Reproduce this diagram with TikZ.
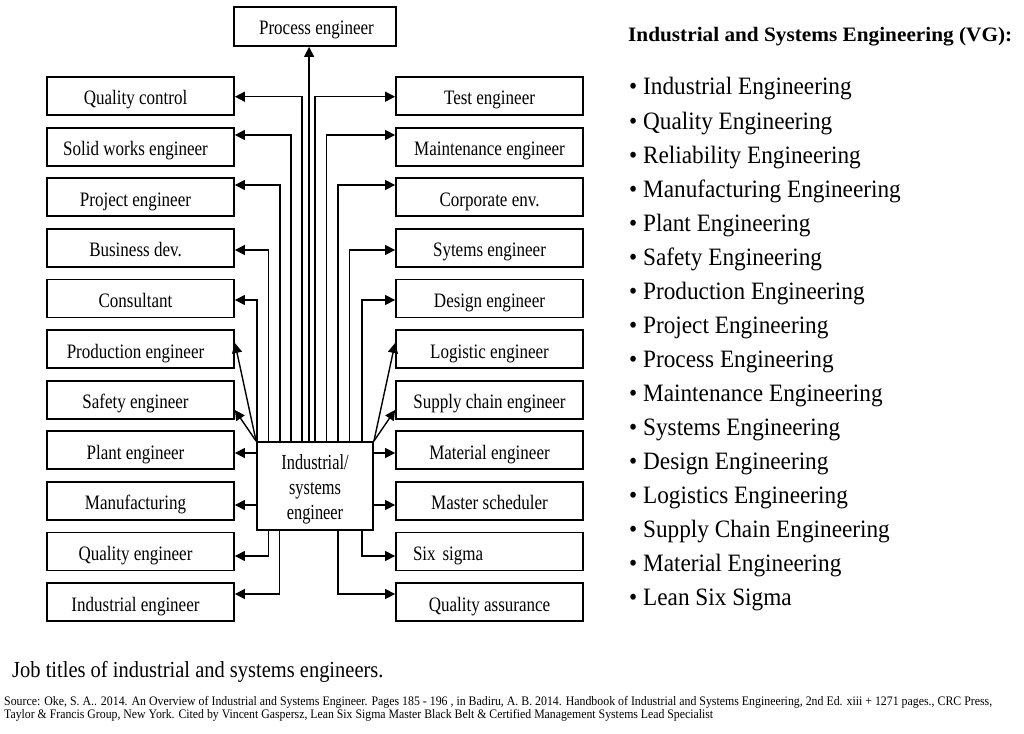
\documentclass[tikz,border=0pt]{standalone}
\usepackage{fontspec}
\setmainfont{Liberation Serif}
\newfontfamily\bxf[FakeStretch=0.83]{Liberation Serif}
\newfontfamily\cbf[FakeStretch=0.76]{Liberation Serif}
\newfontfamily\lsf[FakeStretch=0.93]{Liberation Serif}
\newfontfamily\cpf[FakeStretch=0.89]{Liberation Serif}
\usetikzlibrary{arrows.meta,calc}
\begin{document}
\begin{tikzpicture}[x=1pt,y=-1pt,
  bx/.style={draw,line width=1.8pt,minimum width=187pt,minimum height=38pt,inner sep=0pt,
    text height=18pt,text depth=0pt,font=\bxf\fontsize{20.5}{23}\selectfont},
  arr/.style={line width=1.4pt,-{Triangle[length=10pt,width=10pt]}},
  lst/.style={anchor=base west,inner sep=0pt,font=\lsf\fontsize{25}{28}\selectfont}]
\useasboundingbox (0,0) rectangle (1024,733);
\fill[white] (0,0) rectangle (1024,733);
% left column
\node[bx] (qc)    at (140.5,96.0)  {\kern-10pt Quality control};
\node[bx] (swe)   at (140.5,146.6) {\kern-10pt Solid works engineer};
\node[bx] (pje)   at (140.5,197.2) {\kern-10pt Project engineer};
\node[bx] (bd)    at (140.5,247.8) {\kern-10pt Business dev.};
\node[bx] (cons)  at (140.5,298.4) {\kern-10pt Consultant};
\node[bx] (prod)  at (140.5,349.0) {\kern-10pt Production engineer};
\node[bx] (safe)  at (140.5,399.6) {\kern-10pt Safety engineer};
\node[bx] (plant) at (140.5,450.2) {\kern-10pt Plant engineer};
\node[bx] (manu)  at (140.5,500.8) {\kern-10pt Manufacturing};
\node[bx] (qe)    at (140.5,551.4) {\kern-10pt Quality engineer};
\node[bx] (ie)    at (140.5,602.0) {\kern-10pt Industrial engineer};
% right column
\node[bx] (test)   at (489.5,96.0)  {Test engineer};
\node[bx] (maint)  at (489.5,146.6) {Maintenance engineer};
\node[bx] (corp)   at (489.5,197.2) {Corporate env.};
\node[bx] (sys)    at (489.5,247.8) {Sytems engineer};
\node[bx] (des)    at (489.5,298.4) {Design engineer};
\node[bx] (log)    at (489.5,349.0) {Logistic engineer};
\node[bx] (sup)    at (489.5,399.6) {Supply chain engineer};
\node[bx] (mat)    at (489.5,450.2) {Material engineer};
\node[bx] (msched) at (489.5,500.8) {Master scheduler};
\node[bx,text width=153pt,align=left,inner xsep=17pt] (six) at (489.5,551.4) {Six sigma};
\node[bx] (qa)     at (489.5,602.0) {Quality assurance};
% top and centre
\node[bx,minimum width=162pt,minimum height=39pt,text height=16pt] (proc) at (315,26.5) {\kern3pt Process engineer};
\node[draw,line width=1.8pt,minimum width=116pt,minimum height=88pt,inner sep=0pt,
  font=\cbf\fontsize{21.5}{25}\selectfont] (isys) at (315,486)
  {\raisebox{-3pt}[\height][\depth]{\begin{tabular}{@{}c@{}}Industrial/\\systems\\engineer\end{tabular}}};
% connectors: up to process
\coordinate (pv) at ([xshift=53pt]isys.north west);
\draw[arr] (pv) -- (pv |- proc.south);
% left, via verticals
\draw[arr] ([xshift=46pt]isys.north west) |- ([yshift=-0.7pt]qc.east);
\draw[arr] ([xshift=35pt]isys.north west) |- ([yshift=11.6pt]swe.east);
\draw[arr] ([xshift=24pt]isys.north west) |- ([yshift=12.2pt]pje.east);
\draw[arr] ([xshift=12.5pt]isys.north west) |- ([yshift=-2.2pt]bd.east);
\draw[arr] ([xshift=1pt]isys.north west) |- ([yshift=-1.6pt]cons.east);
% left diagonals
\draw[arr] (isys.north west) -- ([yshift=6pt]prod.east);
\draw[arr] (isys.north west) -- ([yshift=-10.4pt]safe.east);
% left horizontals
\coordinate (pl) at ([yshift=-2.8pt]plant.east);
\coordinate (mf) at ([yshift=-4.2pt]manu.east);
\draw[arr] (isys.west |- pl) -- (pl);
\draw[arr] (isys.west |- mf) -- (mf);
% left bottom
\draw[arr] ([xshift=12.5pt]isys.south west) |- ([yshift=-4.6pt]qe.east);
\draw[arr] ([xshift=23.5pt]isys.south west) |- ([yshift=8pt]ie.east);
% right, via verticals
\draw[arr] ([xshift=58.7pt]isys.north west) |- ([yshift=-0.7pt]test.west);
\draw[arr] ([xshift=70.3pt]isys.north west) |- ([yshift=11.6pt]maint.west);
\draw[arr] ([xshift=82pt]isys.north west) |- ([yshift=12.2pt]corp.west);
\draw[arr] ([xshift=93.5pt]isys.north west) |- ([yshift=-2.2pt]sys.west);
\draw[arr] ([xshift=105.7pt]isys.north west) |- ([yshift=-1.6pt]des.west);
% right diagonals
\draw[arr] (isys.north east) -- ([yshift=6pt]log.west);
\draw[arr] (isys.north east) -- ([yshift=-10.4pt]sup.west);
% right horizontals
\coordinate (mt) at ([yshift=-2.8pt]mat.west);
\coordinate (ms) at ([yshift=-4.2pt]msched.west);
\draw[arr] (isys.east |- mt) -- (mt);
\draw[arr] (isys.east |- ms) -- (ms);
% right bottom
\draw[arr] ([xshift=105.7pt]isys.south west) |- ([yshift=-4.6pt]six.west);
\draw[arr] ([xshift=82pt]isys.south west) |- ([yshift=8pt]qa.west);
% right list
\node[anchor=base west,inner sep=0pt,font=\fontsize{20.5}{25}\bfseries] (hd) at (628,42)
  {\resizebox{384pt}{\height}{Industrial and Systems Engineering (VG):}};
\node[lst] (l1)  at (629,95)  {• Industrial Engineering};
\node[lst] (l2)  at (629,129) {• Quality Engineering};
\node[lst] (l3)  at (629,163) {• Reliability Engineering};
\node[lst] (l4)  at (629,197) {• Manufacturing Engineering};
\node[lst] (l5)  at (629,231) {• Plant Engineering};
\node[lst] (l6)  at (629,265) {• Safety Engineering};
\node[lst] (l7)  at (629,299) {• Production Engineering};
\node[lst] (l8)  at (629,333) {• Project Engineering};
\node[lst] (l9)  at (629,367) {• Process Engineering};
\node[lst] (l10) at (629,401) {• Maintenance Engineering};
\node[lst] (l11) at (629,435) {• Systems Engineering};
\node[lst] (l12) at (629,469) {• Design Engineering};
\node[lst] (l13) at (629,503) {• Logistics Engineering};
\node[lst] (l14) at (629,537) {• Supply Chain Engineering};
\node[lst] (l15) at (629,571) {• Material Engineering};
\node[lst] (l16) at (629,605) {• Lean Six Sigma};
% caption and source
\node[anchor=base west,inner sep=0pt,font=\cpf\fontsize{23}{26}\selectfont] (cap) at (12,677)
  {Job titles of industrial and systems engineers.};
\node[anchor=base west,inner sep=0pt,font=\fontsize{13}{14}\selectfont] (src1) at (4,705)
  {\resizebox{988pt}{\height}{Source: Oke, S. A.. 2014. An Overview of Industrial and Systems Engineer. Pages 185 - 196 , in Badiru, A. B. 2014. Handbook of Industrial and Systems Engineering, 2nd Ed. xiii + 1271 pages., CRC Press,}};
\node[anchor=base west,inner sep=0pt,font=\fontsize{13}{14}\selectfont] (src2) at (4,718)
  {\resizebox{709pt}{\height}{Taylor \& Francis Group, New York. Cited by Vincent Gaspersz, Lean Six Sigma Master Black Belt \& Certified Management Systems Lead Specialist}};
\end{tikzpicture}
\end{document}
